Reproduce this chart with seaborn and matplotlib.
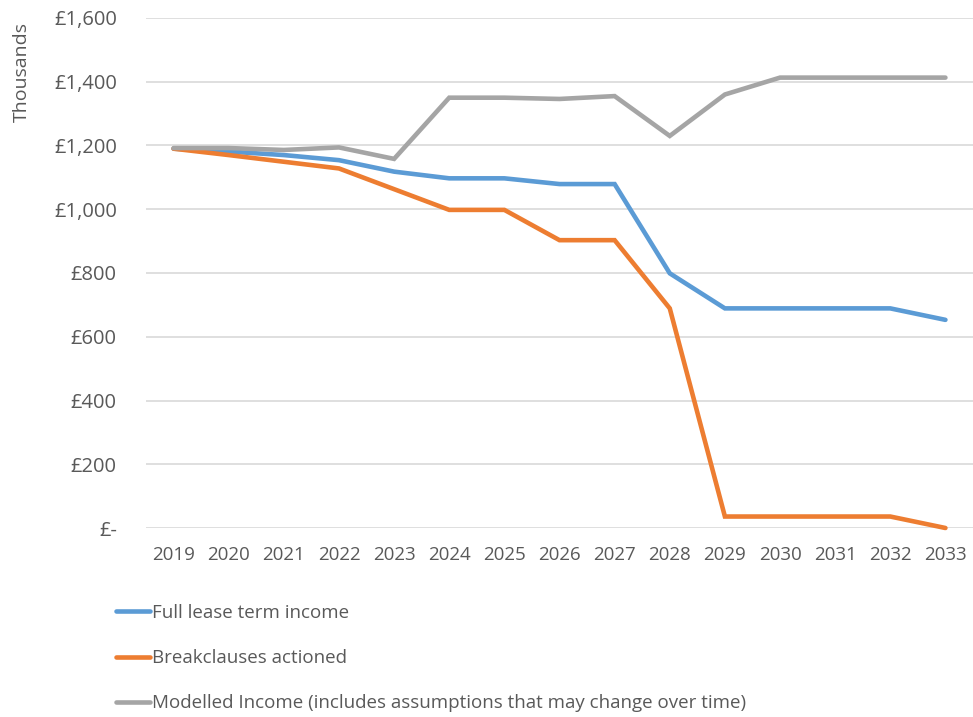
import matplotlib
matplotlib.use("Agg")
import matplotlib.pyplot as plt
import seaborn as sns
import pandas as pd
from matplotlib.ticker import FuncFormatter, FixedLocator

years = [str(y) for y in range(2019, 2034)]
full_lease = [1190, 1181, 1170, 1154, 1118, 1097, 1097, 1079, 1079, 799, 689, 689, 689, 689, 653]
breakclauses = [1190, 1170, 1149, 1128, 1063, 998, 998, 903, 903, 689, 36, 36, 36, 36, 0]
modelled = [1192, 1192, 1186, 1194, 1158, 1350, 1350, 1346, 1355, 1230, 1360, 1413, 1413, 1413, 1413]
series_names = ["Full lease term income", "Breakclauses actioned",
                "Modelled Income (includes assumptions that may change over time)"]
colors = ["#5B9BD5", "#ED7D31", "#A5A5A5"]
y_ticks = [0, 200, 400, 600, 800, 1000, 1200, 1400, 1600]

rows = []
for name, vals in zip(series_names, [full_lease, breakclauses, modelled]):
    for i, (yr, v) in enumerate(zip(years, vals)):
        rows.append({"idx": i, "year": yr, "value": v, "series": name})
df = pd.DataFrame(rows)

sns.set_theme(style="white")
plt.rcParams['font.family'] = ['Open Sans', 'DejaVu Sans']

fig = plt.figure(figsize=(9.73, 7.17), dpi=100)
ax = fig.add_axes([146 / 973, 1 - 528 / 717, 1 - 146 / 973, (528 - 18) / 717])

sns.lineplot(data=df, x="idx", y="value", hue="series", palette=colors,
             hue_order=series_names, linewidth=3.3, ax=ax, legend=True,
             solid_capstyle="round", solid_joinstyle="miter")
for ln in ax.lines:
    ln.set_clip_on(False)

ax.set_xlim(-0.5, len(years) - 0.5)
ax.set_ylim(0, 1600)
ax.set_xticks(range(len(years)))
ax.set_xticklabels(years)
ax.yaxis.set_major_locator(FixedLocator(y_ticks))
ax.yaxis.set_major_formatter(FuncFormatter(lambda v, p: "£-" if v == 0 else f"£{int(v):,}"))
ax.grid(axis="y", color="#D9D9D9", linewidth=1.2)
ax.set_axisbelow(True)
for s in ax.spines.values():
    s.set_visible(False)
ax.tick_params(axis="y", length=0, pad=21, labelsize=14.5, labelcolor="#595959")
ax.tick_params(axis="x", length=0, pad=13, labelsize=13.5, labelcolor="#595959")
ax.set_xlabel("")
ax.set_ylabel("")

fig.text(22 / 973, 1 - 72 / 717, "Thousands", rotation=90, ha="center", va="center",
         fontsize=14, color="#595959")

handles, labels = ax.get_legend_handles_labels()
ax.get_legend().remove()
leg = fig.legend(handles, labels, loc="upper left",
                 bbox_to_anchor=(116 / 973, 1 - 604 / 717), frameon=False,
                 handlelength=1.8, handletextpad=0.1, labelspacing=1.45,
                 prop={'size': 13.5},
                 borderaxespad=0, borderpad=0)
for t in leg.get_texts():
    t.set_color("#595959")
for h in leg.get_lines():
    h.set_linewidth(3.3)

fig.savefig("out.png", dpi=100)
